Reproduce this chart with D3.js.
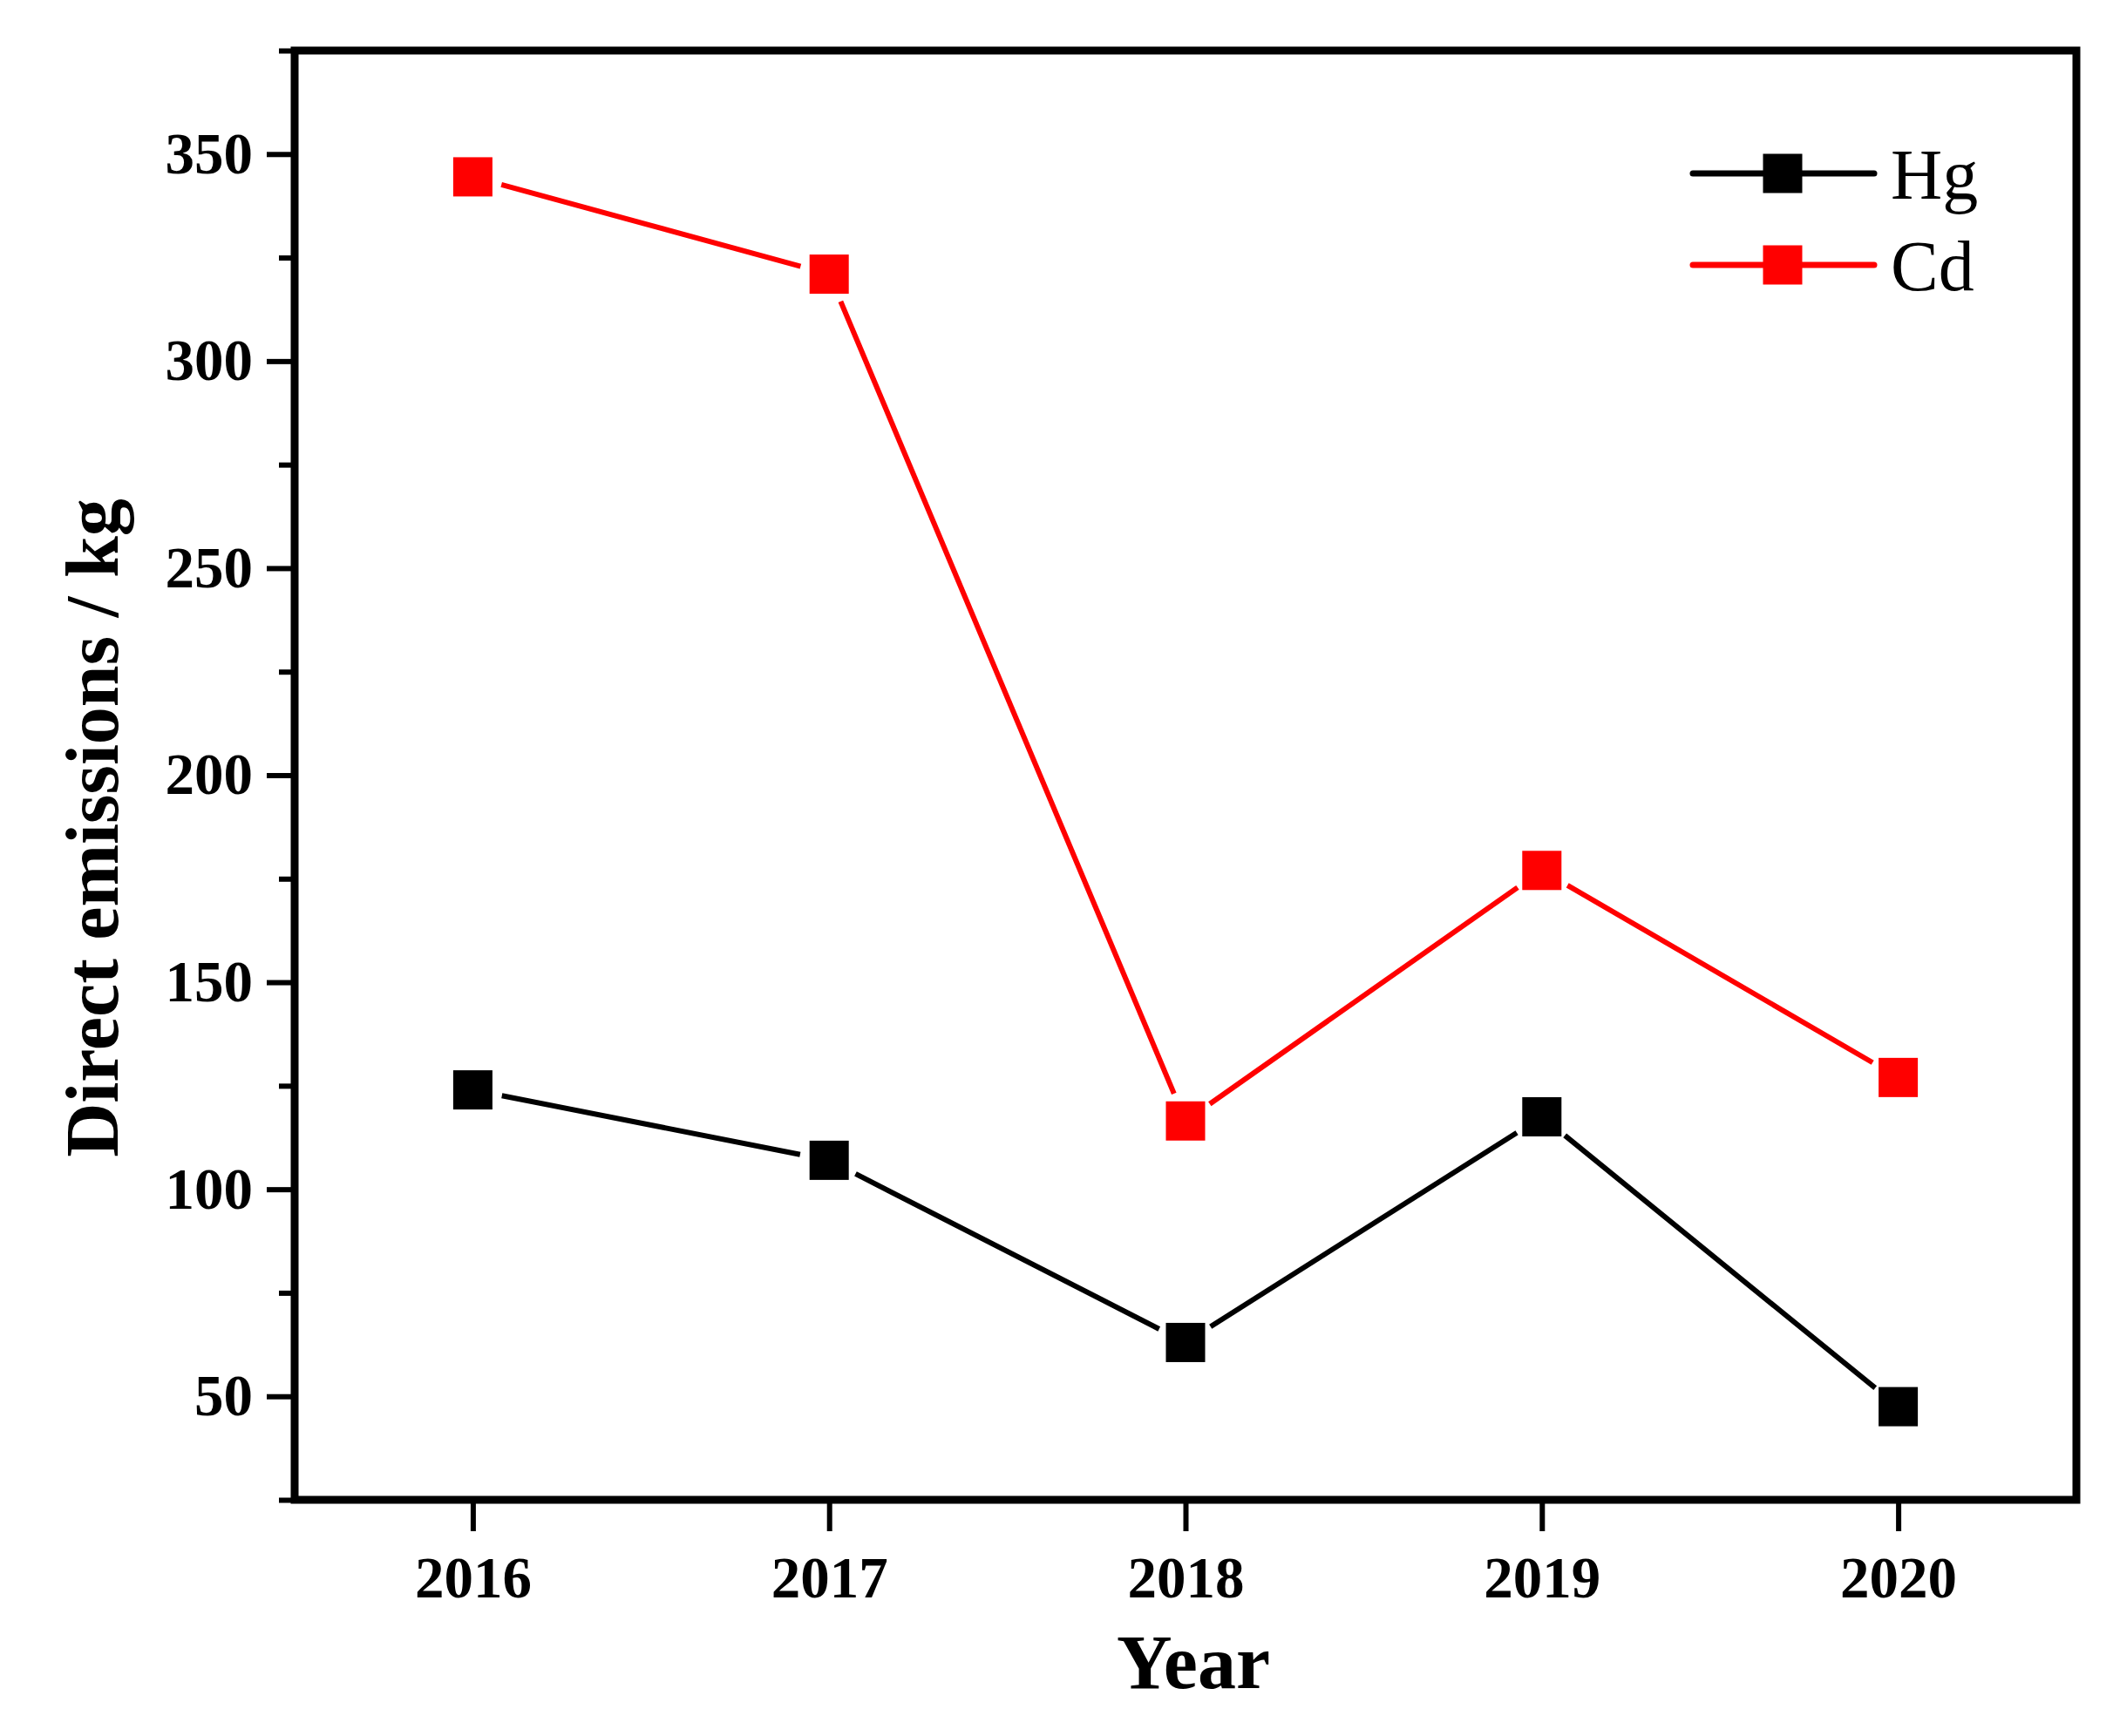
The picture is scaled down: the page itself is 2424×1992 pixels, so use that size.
<!DOCTYPE html>
<html>
<head>
<meta charset="utf-8">
<script src="https://cdn.jsdelivr.net/npm/d3@7"></script>
<style>
body { margin: 0; background: #fff; }
text { font-family: "Liberation Serif", "Times New Roman", serif; fill: #000; }
</style>
</head>
<body>
<script>
// data
const years = [2016, 2017, 2018, 2019, 2020];
const hgValues = [124, 107, 63, 117.5, 47.5];
const cdValues = [344.5, 321, 116.5, 177, 127];
const yMajorTicks = [50, 100, 150, 200, 250, 300, 350];
const yMinorTicks = [25, 75, 125, 175, 225, 275, 325, 375];
const seriesNames = ["Hg", "Cd"];
const seriesColors = ["#000000", "#ff0000"];

const xSize = 2424; const ySize = 1992;
const plotLeft = 338, plotRight = 2382, plotTop = 58, plotBottom = 1721;
const markerSize = 45;
const gap = 34; // Origin-style gap between line and symbol

const x = d3.scaleLinear().domain([2015.5, 2020.5]).range([plotLeft, plotRight]);
const y = d3.scaleLinear().domain([25, 375]).range([plotBottom, plotTop]);

const svg = d3.select("body")
    .append("svg")
    .attr("width", xSize)
    .attr("height", ySize)
    .attr("viewBox", "0 0 " + xSize + " " + ySize);

svg.append("rect")
    .attr("width", xSize).attr("height", ySize)
    .attr("fill", "#fff");

// y axis, major + minor
svg.append("g")
    .attr("transform", "translate(" + plotLeft + ",0)")
    .call(d3.axisLeft(y).tickValues(yMajorTicks).tickSize(32).tickPadding(16));

svg.append("g")
    .attr("transform", "translate(" + plotLeft + ",0)")
    .call(d3.axisLeft(y).tickValues(yMinorTicks).tickSize(18).tickFormat(""));

// x axis
svg.append("g")
    .attr("transform", "translate(0," + plotBottom + ")")
    .call(d3.axisBottom(x).tickValues(years).tickFormat(d3.format("d")).tickSize(36).tickPadding(28));

svg.selectAll(".domain").remove();
svg.selectAll(".tick line")
    .attr("stroke", "#000")
    .attr("stroke-width", 6);
svg.selectAll(".tick text")
    .attr("font-family", "Liberation Serif, Times New Roman, serif")
    .attr("font-size", 67)
    .attr("font-weight", "bold")
    .attr("fill", "#000");

// frame
svg.append("rect")
    .attr("x", plotLeft).attr("y", plotTop)
    .attr("width", plotRight - plotLeft).attr("height", plotBottom - plotTop)
    .attr("fill", "none")
    .attr("stroke", "#000")
    .attr("stroke-width", 9);

// axis titles
svg.append("text")
    .attr("transform", "translate(135,950) rotate(-90)")
    .attr("text-anchor", "middle")
    .attr("font-size", 86)
    .attr("font-weight", "bold")
    .text("Direct emissions / kg");

svg.append("text")
    .attr("x", 1369).attr("y", 1937)
    .attr("text-anchor", "middle")
    .attr("font-size", 88)
    .attr("font-weight", "bold")
    .text("Year");

// series
const series = [hgValues, cdValues].map((vals, i) => ({
    name: seriesNames[i],
    color: seriesColors[i],
    points: years.map((yr, j) => ({ x: yr, y: vals[j] }))
}));

const line = d3.line();

series.forEach(s => {
    const g = svg.append("g");

    // shortened segments so there is a small gap at each symbol
    for (let i = 0; i < s.points.length - 1; i++) {
        const x0 = x(s.points[i].x), y0 = y(s.points[i].y);
        const x1 = x(s.points[i + 1].x), y1 = y(s.points[i + 1].y);
        const len = Math.hypot(x1 - x0, y1 - y0);
        const ux = (x1 - x0) / len, uy = (y1 - y0) / len;
        g.append("path")
            .attr("d", line([[x0 + ux * gap, y0 + uy * gap], [x1 - ux * gap, y1 - uy * gap]]))
            .attr("stroke", s.color)
            .attr("stroke-width", 6)
            .attr("fill", "none");
    }

    g.selectAll("rect")
        .data(s.points)
        .enter()
        .append("rect")
        .attr("x", d => x(d.x) - markerSize / 2)
        .attr("y", d => y(d.y) - markerSize / 2)
        .attr("width", markerSize)
        .attr("height", markerSize)
        .attr("fill", s.color);
});

// legend
const legend = svg.append("g");
series.forEach((s, i) => {
    const ly = 199 + i * 105;
    legend.append("line")
        .attr("x1", 1942).attr("x2", 2150)
        .attr("y1", ly).attr("y2", ly)
        .attr("stroke", s.color)
        .attr("stroke-width", 7)
        .attr("stroke-linecap", "round");
    legend.append("rect")
        .attr("x", 2045 - markerSize / 2)
        .attr("y", ly - markerSize / 2)
        .attr("width", markerSize)
        .attr("height", markerSize)
        .attr("fill", s.color);
    legend.append("text")
        .attr("x", 2169)
        .attr("y", ly + 29)
        .attr("font-size", 82)
        .text(s.name);
});
</script>
</body>
</html>
